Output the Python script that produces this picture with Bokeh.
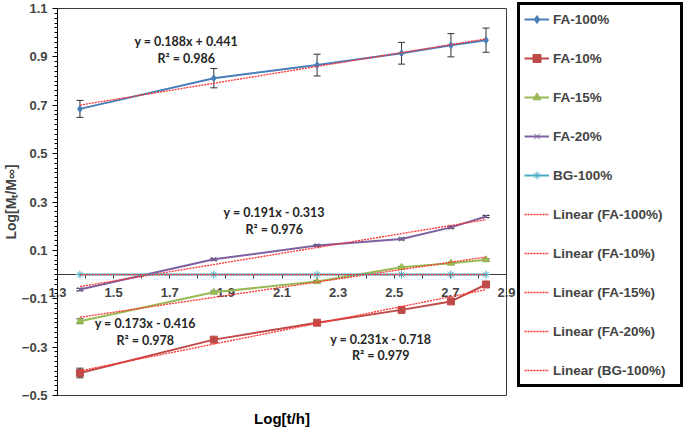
import numpy as np
from bokeh.plotting import figure
from bokeh.models import (LinearAxis, FixedTicker, Legend, LegendItem, Whisker,
                          TeeHead, ColumnDataSource, BasicTickFormatter, Label,
                          Range1d)
from bokeh.core.properties import value
from bokeh.embed import file_html
from bokeh.resources import INLINE

# ---- data ----
log_t = [1.380, 1.857, 2.225, 2.526, 2.702, 2.827]
fa100 = [0.685, 0.812, 0.866, 0.915, 0.948, 0.969]
fa100_err = [0.035, 0.040, 0.045, 0.045, 0.048, 0.050]
fa10 = [-0.407, -0.269, -0.199, -0.146, -0.111, -0.041]
fa10_err = [0.020, 0.008, 0.005, 0.005, 0.005, 0.004]
fa15 = [-0.193, -0.073, -0.029, 0.030, 0.047, 0.061]
fa15_err = [0.010, 0.005, 0.004, 0.004, 0.004, 0.004]
fa20 = [-0.062, 0.063, 0.120, 0.147, 0.195, 0.240]
fa20_err = [0.005, 0.004, 0.004, 0.004, 0.004, 0.004]
bg100 = [0.0, 0.0, 0.0, 0.0, 0.0, 0.0]
bg100_err = [0.0, 0.0, 0.0, 0.0, 0.0, 0.0]

series_names = ["FA-100%", "FA-10%", "FA-15%", "FA-20%", "BG-100%"]
series_vals = [fa100, fa10, fa15, fa20, bg100]
series_errs = [fa100_err, fa10_err, fa15_err, fa20_err, bg100_err]
series_colors = ["#4A7EBB", "#BE4B48", "#98B954", "#7D60A0", "#46AAC5"]
series_markers = ["diamond", "square", "triangle", "x", "asterisk"]

eq_texts = [("y = 0.188x + 0.441", "R² = 0.986"),
            ("y = 0.191x - 0.313", "R² = 0.976"),
            ("y = 0.173x - 0.416", "R² = 0.978"),
            ("y = 0.231x - 0.718", "R² = 0.979")]

x_major = [1.3, 1.5, 1.7, 1.9, 2.1, 2.3, 2.5, 2.7, 2.9]
x_minor = [1.4, 1.6, 1.8, 2.0, 2.2, 2.4, 2.6, 2.8]
y_major = [-0.5, -0.3, -0.1, 0.1, 0.3, 0.5, 0.7, 0.9, 1.1]
x_title = "Log[t/h]"
y_title = "Log[Mₜ/M∞]"

FONT = "Liberation Sans"

# ---- layout: the frame covers the whole figure; the plot area is a box inside ----
W, H = 685, 429
PX_L, PX_R = 57, 506      # pixel columns of the x-axis ends
PY_T, PY_B = 8, 395       # pixel rows of the y-axis ends
x0, x1 = x_major[0], x_major[-1]
y0, y1 = y_major[0], y_major[-1]
kx = (PX_R - PX_L) / (x1 - x0)
ky = (PY_B - PY_T) / (y1 - y0)
x_rng = Range1d(x0 - PX_L / kx, x1 + (W - PX_R) / kx)
y_rng = Range1d(y0 - (H - PY_B) / ky, y1 + PY_T / ky)


def row_to_y(row):
    return y1 + PY_T / ky - row / ky


p = figure(width=W, height=H, x_range=x_rng, y_range=y_rng,
           x_axis_location=None, y_axis_location=None,
           toolbar_location=None, output_backend="svg", min_border=0)
p.xgrid.visible = False
p.ygrid.visible = False
p.outline_line_color = None
p.background_fill_color = "white"
p.border_fill_color = "white"

# plot-area box
p.quad(left=[x0], right=[x1], bottom=[y0], top=[y1], fill_color=None,
       line_color="#3a3a3a", line_width=1)

# y axis
yax = LinearAxis(ticker=FixedTicker(ticks=y_major,
                                    minor_ticks=[float(v) for v in np.round(np.arange(y0, y1 + 1e-4, 0.02), 3)]),
                 formatter=BasicTickFormatter(precision=1))
yax.fixed_location = x0
yax.bounds = (y0, y1)
yax.axis_label = y_title
yax.axis_label_text_font = FONT
yax.axis_label_text_font_style = "bold"
yax.axis_label_text_font_size = "14px"
yax.axis_label_standoff = 0
yax.major_label_text_font = FONT
yax.major_label_text_font_style = "bold"
yax.major_label_text_font_size = "13px"
yax.major_label_standoff = 5
yax.major_tick_out = 5
yax.major_tick_in = 0
yax.minor_tick_out = 3
yax.minor_tick_in = 0
yax.axis_line_color = "black"
yax.major_tick_line_color = "black"
yax.minor_tick_line_color = "black"
p.add_layout(yax, "left")

# x axis drawn at y = 0
xax = LinearAxis(ticker=FixedTicker(ticks=x_major, minor_ticks=x_minor),
                 formatter=BasicTickFormatter(precision=1))
xax.fixed_location = 0
xax.bounds = (x0, x1)
xax.level = "underlay"
xax.major_label_text_font = FONT
xax.major_label_text_font_style = "bold"
xax.major_label_text_font_size = "13px"
xax.major_label_standoff = 9
xax.major_tick_out = 4
xax.major_tick_in = 0
xax.minor_tick_out = 4
xax.minor_tick_in = 0
xax.axis_line_color = "#404040"
xax.major_tick_line_color = "#404040"
xax.minor_tick_line_color = "#404040"
p.add_layout(xax, "below")

# x axis title
p.add_layout(Label(x=(x0 + x1) / 2, y=row_to_y(418), text=x_title, text_align="center",
                   text_baseline="middle", text_font=FONT, text_font_style="bold",
                   text_font_size="15px", text_color="black"))

series_items = []
trend_items = []
for name, vals, errs, col, mk in zip(series_names, series_vals, series_errs,
                                     series_colors, series_markers):
    src = ColumnDataSource(dict(x=log_t, y=vals,
                                upper=[v + e for v, e in zip(vals, errs)],
                                lower=[v - e for v, e in zip(vals, errs)]))
    ln = p.line("x", "y", source=src, line_color=col, line_width=2)
    sc = p.scatter("x", "y", source=src, marker=mk, size=7 if mk != "asterisk" else 8,
                   fill_color=col, line_color=col, line_width=1)
    if max(errs) > 0:
        wh = Whisker(source=src, base="x", upper="upper", lower="lower",
                     dimension="height", line_color="#333333", line_width=1,
                     upper_head=TeeHead(size=7, line_color="#333333", line_width=1),
                     lower_head=TeeHead(size=7, line_color="#333333", line_width=1))
        p.add_layout(wh)
    series_items.append(LegendItem(label=name, renderers=[ln, sc]))
    # linear trend line fitted to the series
    k, b = np.polyfit(log_t, vals, 1)
    xs = [min(log_t), max(log_t)]
    tsrc = ColumnDataSource(dict(x=xs, y=[float(k * xx + b) for xx in xs]))
    tr = p.line("x", "y", source=tsrc, line_color="#FF3030", line_width=1.3,
                line_dash="2 1")
    trend_items.append(LegendItem(label="Linear (" + name + ")", renderers=[tr]))

# equation annotations
eq_pos = [(1.759, 0.965, 0.895), (2.072, 0.256, 0.186),
          (1.613, -0.202, -0.272), (2.452, -0.268, -0.334)]
ex, ey, et = [], [], []
for (xp, ya, yb), (t1, t2) in zip(eq_pos, eq_texts):
    ex += [xp, xp]
    ey += [ya, yb]
    et += [t1, t2]
p.text(x=ex, y=ey, text=et, text_align="center", text_baseline="middle",
       text_font=value("Lato"), text_font_style="bold", text_font_size="12.5px",
       text_color="#262626")

legend = Legend(items=series_items + trend_items, location="top_right")
legend.label_text_font = FONT
legend.label_text_font_style = "bold"
legend.label_text_font_size = "13.5px"
legend.label_height = 20
legend.glyph_height = 20
legend.glyph_width = 25
legend.label_width = 123
legend.label_standoff = 4
legend.spacing = 19
legend.padding = 4
legend.margin = 2
legend.border_line_color = "black"
legend.border_line_alpha = 1
legend.border_line_width = 3
legend.background_fill_color = "white"
legend.background_fill_alpha = 1
p.add_layout(legend)

open("out.html", "w").write(file_html(p, INLINE))
